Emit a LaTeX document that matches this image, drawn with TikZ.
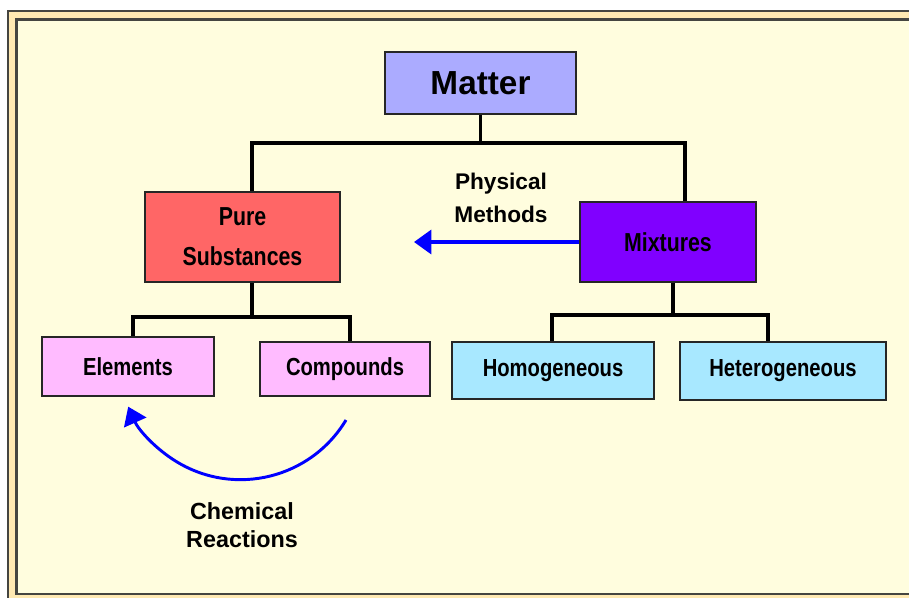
\documentclass[tikz,border=0pt]{standalone}
\usepackage{fontspec}
\setmainfont{Liberation Sans}
\newfontfamily\narrowsans[FakeStretch=0.82]{Liberation Sans}
\usetikzlibrary{arrows.meta,calc}

\definecolor{framegrey}{HTML}{454540}
\definecolor{bandorange}{HTML}{FFE9B2}
\definecolor{paper}{HTML}{FFFDDE}
\definecolor{matterblue}{HTML}{ABABFF}
\definecolor{purered}{HTML}{FF6666}
\definecolor{mixviolet}{HTML}{8000FF}
\definecolor{elempink}{HTML}{FFBBFF}
\definecolor{mixcyan}{HTML}{A8E8FF}
\definecolor{arrowblue}{HTML}{0000FF}

\begin{document}
\begin{tikzpicture}[x=0.75pt, y=-0.75pt,
    box/.style={draw=black!85, line width=1.1pt, inner sep=0pt, align=center,
        font=\narrowsans\bfseries\fontsize{18.5}{30}\selectfont},
    tree/.style={line width=2.3pt},
    flow/.style={draw=arrowblue, line width=2.6pt, -{Triangle[length=13pt,width=18pt]}},
    note/.style={align=center, font=\bfseries\fontsize{17}{25}\selectfont}]
    \useasboundingbox (0,0) rectangle (909,597);

    % Frame - double border
    \draw[fill=bandorange, draw=framegrey, line width=2pt] (8,11) rectangle (930,610);
    \draw[fill=paper, draw=framegrey, line width=1.8pt] (16.5,19.5) rectangle (930,594);

    % Top level
    \node[box, fill=matterblue, minimum width=143.25pt, minimum height=46.5pt,
        font=\bfseries\fontsize{25}{30}\selectfont] (matter) at (480.5,83) {Matter};

    % Second level
    \node[box, fill=purered, minimum width=146.25pt, minimum height=67.5pt,
        font=\narrowsans\bfseries\fontsize{19.5}{30}\selectfont] (pure) at (242.5,237) {Pure\\Substances};
    \node[box, fill=mixviolet, minimum width=132pt, minimum height=60pt,
        font=\narrowsans\bfseries\fontsize{19.5}{30}\selectfont] (mix) at (668,242) {Mixtures};

    % Third level
    \node[box, fill=elempink, minimum width=129pt, minimum height=44.25pt] (elem) at (128,366.5) {Elements};
    \node[box, fill=elempink, minimum width=127.5pt, minimum height=40.5pt] (comp) at (345,369) {Compounds};
    \node[box, fill=mixcyan, minimum width=151.5pt, minimum height=42.75pt] (homo) at (553,370.5) {Homogeneous};
    \node[box, fill=mixcyan, minimum width=154.5pt, minimum height=43.5pt] (hetero) at (783,371) {Heterogeneous};

    % Tree lines
    \coordinate (j1) at (480.5,143);
    \draw[tree] (matter.south) -- (j1);
    \draw[tree] (j1) -| ($(pure.north)+(9.5,0)$);
    \draw[tree] (j1) -| ($(mix.north)+(17,0)$);

    \coordinate (j2) at (252,317);
    \draw[tree] ($(pure.south)+(9.5,0)$) -- (j2);
    \draw[tree] (j2) -| ($(elem.north)+(5,0)$);
    \draw[tree] (j2) -| ($(comp.north)+(5,0)$);

    \coordinate (j3) at (673,315);
    \draw[tree] ($(mix.south)+(5,0)$) -- (j3);
    \draw[tree] (j3) -| ($(homo.north)+(-1,0)$);
    \draw[tree] (j3) -| ($(hetero.north)+(-15,0)$);

    % Physical methods
    \coordinate (pm) at (414,242);
    \draw[flow] (mix.west) -- (pm);
    \node[note] (physlbl) at (501,198) {Physical\\Methods};

    % Chemical reactions
    \coordinate (cr) at (346,420);
    \draw[flow, line width=2.2pt] (cr) arc[start angle=31, end angle=156, radius=123];
    \node[note, font=\bfseries\fontsize{17.5}{20.5}\selectfont] (chemlbl) at (242,525) {Chemical\\Reactions};
\end{tikzpicture}
\end{document}
